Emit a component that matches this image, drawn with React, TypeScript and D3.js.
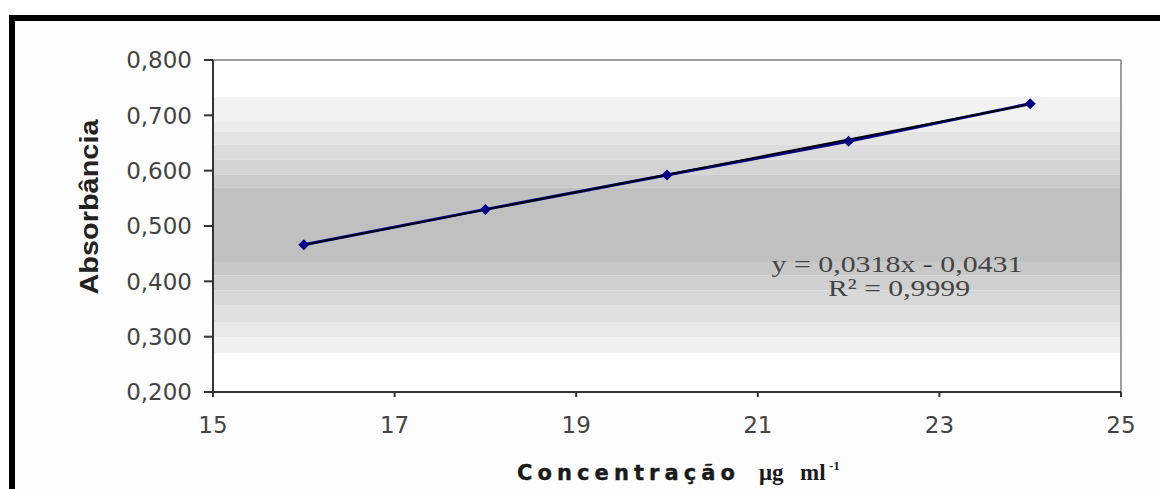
import React from "react";
import * as d3 from "d3";

const concentrations = [16, 18, 20, 22, 24];
const absorbances = [0.466, 0.53, 0.592, 0.653, 0.721];
const xTicks = [15, 17, 19, 21, 23, 25];
const yTicks = [0.2, 0.3, 0.4, 0.5, 0.6, 0.7, 0.8];
const slope = 0.0318;
const intercept = -0.0431;
const equationLines = ["y = 0,0318x - 0,0431", "R² = 0,9999"];
// background band shades (top → bottom) in absorbance units
const bandEdges = [0.8, 0.733, 0.688, 0.67, 0.647, 0.62, 0.593, 0.569, 0.435, 0.411, 0.384, 0.357, 0.326, 0.299, 0.27, 0.2];
const bandColors = ["#ffffff", "#f2f2f2", "#ececec", "#e4e4e4", "#dcdcdc", "#d4d4d4", "#cbcbcb", "#c0c0c0", "#c8c8c8", "#d0d0d0", "#d8d8d8", "#e0e0e0", "#e8e8e8", "#f0f0f0", "#ffffff"];

export default function App() {
  const W = 1160, H = 489;
  const left = 213, right = 1121, top = 60, bottom = 392;
  const x = d3.scaleLinear().domain([15, 25]).range([left, right]);
  const y = d3.scaleLinear().domain([0.2, 0.8]).range([bottom, top]);
  const fmt = (v: number) => v.toFixed(3).replace(".", ",");
  const line = d3.line<[number, number]>().x(d => x(d[0])).y(d => y(d[1]));
  const pts: [number, number][] = concentrations.map((c, i) => [c, absorbances[i]]);
  const trend: [number, number][] = [16, 24].map(c => [c, slope * c + intercept]);
  const diamond = d3.symbol().type(d3.symbolSquare).size(60)();
  const tickFont = "'DejaVu Sans', Verdana, sans-serif";
  const serif = "'Liberation Serif', 'Times New Roman', serif";

  return (
    <svg width={W} height={H} style={{ position: "fixed", left: 0, top: 0, background: "#ffffff" }}>
      <rect x={0} y={0} width={W} height={H} fill="#ffffff" />
      <rect x={12} y={18} width={W} height={H} fill="#fdfdfd" />
      {/* outer border */}
      <line x1={12} y1={15} x2={12} y2={H} stroke="#000" strokeWidth={6} />
      <line x1={9} y1={18} x2={W} y2={18} stroke="#000" strokeWidth={6} />

      {/* plot background bands */}
      {bandColors.map((c, i) => (
        <rect key={i} x={left} y={y(bandEdges[i])} width={right - left}
          height={y(bandEdges[i + 1]) - y(bandEdges[i])} fill={c} />
      ))}
      {/* plot frame */}
      <line x1={left} y1={top} x2={right} y2={top} stroke="#808080" strokeWidth={1.5} />
      <line x1={right} y1={top} x2={right} y2={bottom} stroke="#808080" strokeWidth={1.5} />

      {/* y axis */}
      <line x1={left} y1={top} x2={left} y2={bottom} stroke="#333" strokeWidth={2} />
      {yTicks.map(t => (
        <g key={t}>
          <line x1={left - 9} x2={left} y1={y(t)} y2={y(t)} stroke="#333" strokeWidth={2} />
          <text x={192} y={y(t)} dy="0.36em" textAnchor="end" fontFamily={tickFont}
            fontSize={23} fill="#444">{fmt(t)}</text>
        </g>
      ))}
      {/* x axis */}
      <line x1={left} y1={bottom} x2={right} y2={bottom} stroke="#333" strokeWidth={2} />
      {xTicks.map(t => (
        <g key={t}>
          <line x1={x(t)} x2={x(t)} y1={bottom} y2={bottom + 5} stroke="#333" strokeWidth={2} />
          <text x={x(t)} y={433} textAnchor="middle" fontFamily={tickFont}
            fontSize={23} fill="#444">{t}</text>
        </g>
      ))}

      {/* series and trendline */}
      <path d={line(pts) || ""} fill="none" stroke="#000080" strokeWidth={3} />
      <path d={line(trend) || ""} fill="none" stroke="#000" strokeWidth={1.6} />
      {pts.map((p, i) => (
        <path key={i} d={diamond || ""} transform={`translate(${x(p[0])},${y(p[1])}) rotate(45)`} fill="#000080" />
      ))}

      {/* equation */}
      <text x={897} y={272} textAnchor="middle" fontFamily={serif}
        fontSize={24} fill="#444" textLength={251} lengthAdjust="spacingAndGlyphs">{equationLines[0]}</text>
      <text x={899} y={296} textAnchor="middle" fontFamily={serif}
        fontSize={24} fill="#444" textLength={142} lengthAdjust="spacingAndGlyphs">{equationLines[1]}</text>

      {/* axis titles */}
      <text transform="translate(98,207) rotate(-90)" textAnchor="middle"
        fontFamily="'Liberation Sans Narrow', 'Liberation Sans', Arial, sans-serif" fontWeight="bold"
        fontSize={25} fill="#222" textLength={175} lengthAdjust="spacingAndGlyphs">Absorbância</text>
      <text x={517} y={480} fontFamily="'DejaVu Sans', Verdana, sans-serif" fontWeight="bold"
        fontSize={21} fill="#1a1a1a" stroke="#1a1a1a" strokeWidth={0.4}
        textLength={218} lengthAdjust="spacing">Concentração</text>
      <text x={759} y={480} fontFamily={serif} fontWeight="bold" fontSize={23} fill="#1a1a1a">μg</text>
      <text x={800} y={480} fontFamily={serif} fontWeight="bold" fontSize={23} fill="#1a1a1a">ml</text>
      <text x={829} y={470} fontFamily={serif} fontWeight="bold" fontSize={13} fill="#1a1a1a">-1</text>
    </svg>
  );
}
